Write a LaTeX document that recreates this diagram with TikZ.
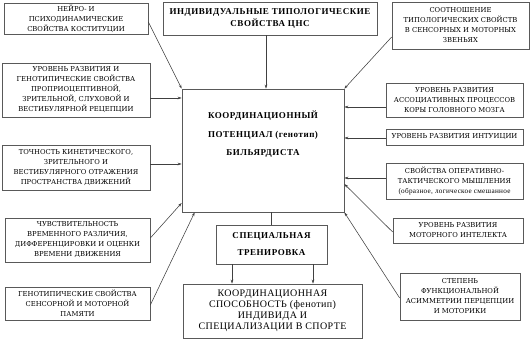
\documentclass[tikz,border=0pt]{standalone}
\usepackage{fontspec}
\usetikzlibrary{arrows.meta,calc}
\newfontfamily\smallfnt{DejaVu Serif}
\newfontfamily\boldfnt[LetterSpace=6]{Liberation Serif}
\newfontfamily\resfnt[LetterSpace=4]{Liberation Serif}
\tikzset{
  box/.style={draw=black!65, line width=0.7pt, inner sep=1pt, align=center},
  sbox/.style={box, font=\smallfnt\fontsize{6.8}{10}\selectfont},
  arr/.style={draw=black!75, line width=0.55pt, -{Stealth[length=4pt,width=2.6pt]}},
  plain/.style={draw=black!75, line width=0.55pt},
}
\begin{document}
\begin{tikzpicture}[x=1pt,y=-1pt]
\useasboundingbox (0,0) rectangle (531,342);
% left column
\node[sbox, minimum width=144pt, minimum height=31pt] (b1) at (76,18.5) {НЕЙРО- И\\ПСИХОДИНАМИЧЕСКИЕ\\СВОЙСТВА КОСТИТУЦИИ};
\node[sbox, minimum width=148pt, minimum height=54pt] (b4) at (76,90) {УРОВЕНЬ РАЗВИТИЯ И\\ГЕНОТИПИЧЕСКИЕ СВОЙСТВА\\ПРОПРИОЦЕПТИВНОЙ,\\ЗРИТЕЛЬНОЙ, СЛУХОВОЙ И\\ВЕСТИБУЛЯРНОЙ РЕЦЕПЦИИ};
\node[sbox, minimum width=148pt, minimum height=45pt] (b5) at (76,167.5) {ТОЧНОСТЬ КИНЕТИЧЕСКОГО,\\ЗРИТЕЛЬНОГО И\\ВЕСТИБУЛЯРНОГО ОТРАЖЕНИЯ\\ПРОСТРАНСТВА ДВИЖЕНИЙ};
\node[sbox, minimum width=145pt, minimum height=44pt] (b6) at (77.5,240) {ЧУВСТВИТЕЛЬНОСТЬ\\ВРЕМЕННОГО РАЗЛИЧИЯ,\\ДИФФЕРЕНЦИРОВКИ И ОЦЕНКИ\\ВРЕМЕНИ ДВИЖЕНИЯ};
\node[sbox, minimum width=145pt, minimum height=33pt] (b7) at (77.5,303.5) {ГЕНОТИПИЧЕСКИЕ СВОЙСТВА\\СЕНСОРНОЙ И МОТОРНОЙ\\ПАМЯТИ};
% top centre
\node[box, minimum width=214pt, minimum height=33pt, font=\boldfnt\bfseries\fontsize{9}{11.5}\selectfont] (b2) at (270,18.5) {ИНДИВИДУАЛЬНЫЕ ТИПОЛОГИЧЕСКИЕ\\СВОЙСТВА ЦНС};
% right column
\node[sbox, minimum width=137pt, minimum height=47pt] (b3) at (460.5,25.5) {СООТНОШЕНИЕ\\ТИПОЛОГИЧЕСКИХ СВОЙСТВ\\В СЕНСОРНЫХ И МОТОРНЫХ\\ЗВЕНЬЯХ};
\node[sbox, minimum width=137pt, minimum height=34pt] (r1) at (454.5,100) {УРОВЕНЬ РАЗВИТИЯ\\АССОЦИАТИВНЫХ ПРОЦЕССОВ\\КОРЫ ГОЛОВНОГО МОЗГА};
\node[sbox, minimum width=137pt, minimum height=16pt] (r2) at (454.5,137) {УРОВЕНЬ РАЗВИТИЯ ИНТУИЦИИ};
\node[sbox, minimum width=137pt, minimum height=36pt] (r3) at (454.5,181) {СВОЙСТВА ОПЕРАТИВНО-\\ТАКТИЧЕСКОГО МЫШЛЕНИЯ\\{\resfnt\fontsize{7.2}{9}\selectfont (образное, логическое смешанное}};
\node[sbox, minimum width=130pt, minimum height=25pt] (r4) at (458,230.5) {УРОВЕНЬ РАЗВИТИЯ\\МОТОРНОГО ИНТЕЛЕКТА};
\node[sbox, minimum width=120pt, minimum height=47pt] (r5) at (460,296.5) {СТЕПЕНЬ\\ФУНКЦИОНАЛЬНОЙ\\АСИММЕТРИИ ПЕРЦЕПЦИИ\\И МОТОРИКИ};
% centre
\node[box, minimum width=162pt, minimum height=123pt] (c) at (263,150.5) {};
\node[align=center, font=\boldfnt\bfseries\fontsize{9}{18.5}\selectfont] (ct) at (263,134.5) {КООРДИНАЦИОННЫЙ\\ПОТЕНЦИАЛ (генотип)\\БИЛЬЯРДИСТА};
\node[box, minimum width=111pt, minimum height=39pt, font=\boldfnt\bfseries\fontsize{9}{17}\selectfont] (sp) at (271.5,244.5) {СПЕЦИАЛЬНАЯ\\ТРЕНИРОВКА};
\node[box, minimum width=179pt, minimum height=54pt, font=\resfnt\fontsize{10}{11}\selectfont] (res) at (272.5,311) {КООРДИНАЦИОННАЯ\\СПОСОБНОСТЬ (фенотип)\\ИНДИВИДА И\\СПЕЦИАЛИЗАЦИИ В СПОРТЕ};
% connectors left
\draw[arr] ([yshift=-3.5pt]b1.east) -- (c.north west);
\draw[arr] ([xshift=-4pt]b2.south) -- ([xshift=-4pt]b2.south |- c.north);
\draw[arr] ([yshift=-8pt]b4.east) coordinate (s4) -- (s4 -| c.west);
\draw[arr] ([yshift=3.5pt]b5.east) coordinate (s5) -- (s5 -| c.west);
\draw[arr] ([yshift=2pt]b6.east) -- ([yshift=-52.5pt]c.west);
\draw[arr] ([yshift=-1.5pt]b7.east) -- ([xshift=13pt]c.south west);
% connectors right
\draw[arr] ([yshift=-11.5pt]b3.west) -- (c.north east);
\draw[arr] ([yshift=-7pt]r1.west) coordinate (t1) -- (t1 -| c.east);
\draw[arr] ([yshift=-1pt]r2.west) coordinate (t2) -- (t2 -| c.east);
\draw[arr] ([yshift=3pt]r3.west) coordinate (t3) -- (t3 -| c.east);
\draw[arr] ([yshift=-1.5pt]r4.west) -- ([yshift=-33.5pt]c.east);
\draw[arr] ([yshift=-1.5pt]r5.west) -- (c.south east);
% bottom
\draw[plain] (sp.north) -- (sp.north |- c.south);
\draw[arr] ([xshift=-39.5pt]sp.south) -- ([xshift=-39.5pt]sp.south |- res.north);
\draw[arr] ([xshift=41.5pt]sp.south) -- ([xshift=41.5pt]sp.south |- res.north);
\end{tikzpicture}
\end{document}
